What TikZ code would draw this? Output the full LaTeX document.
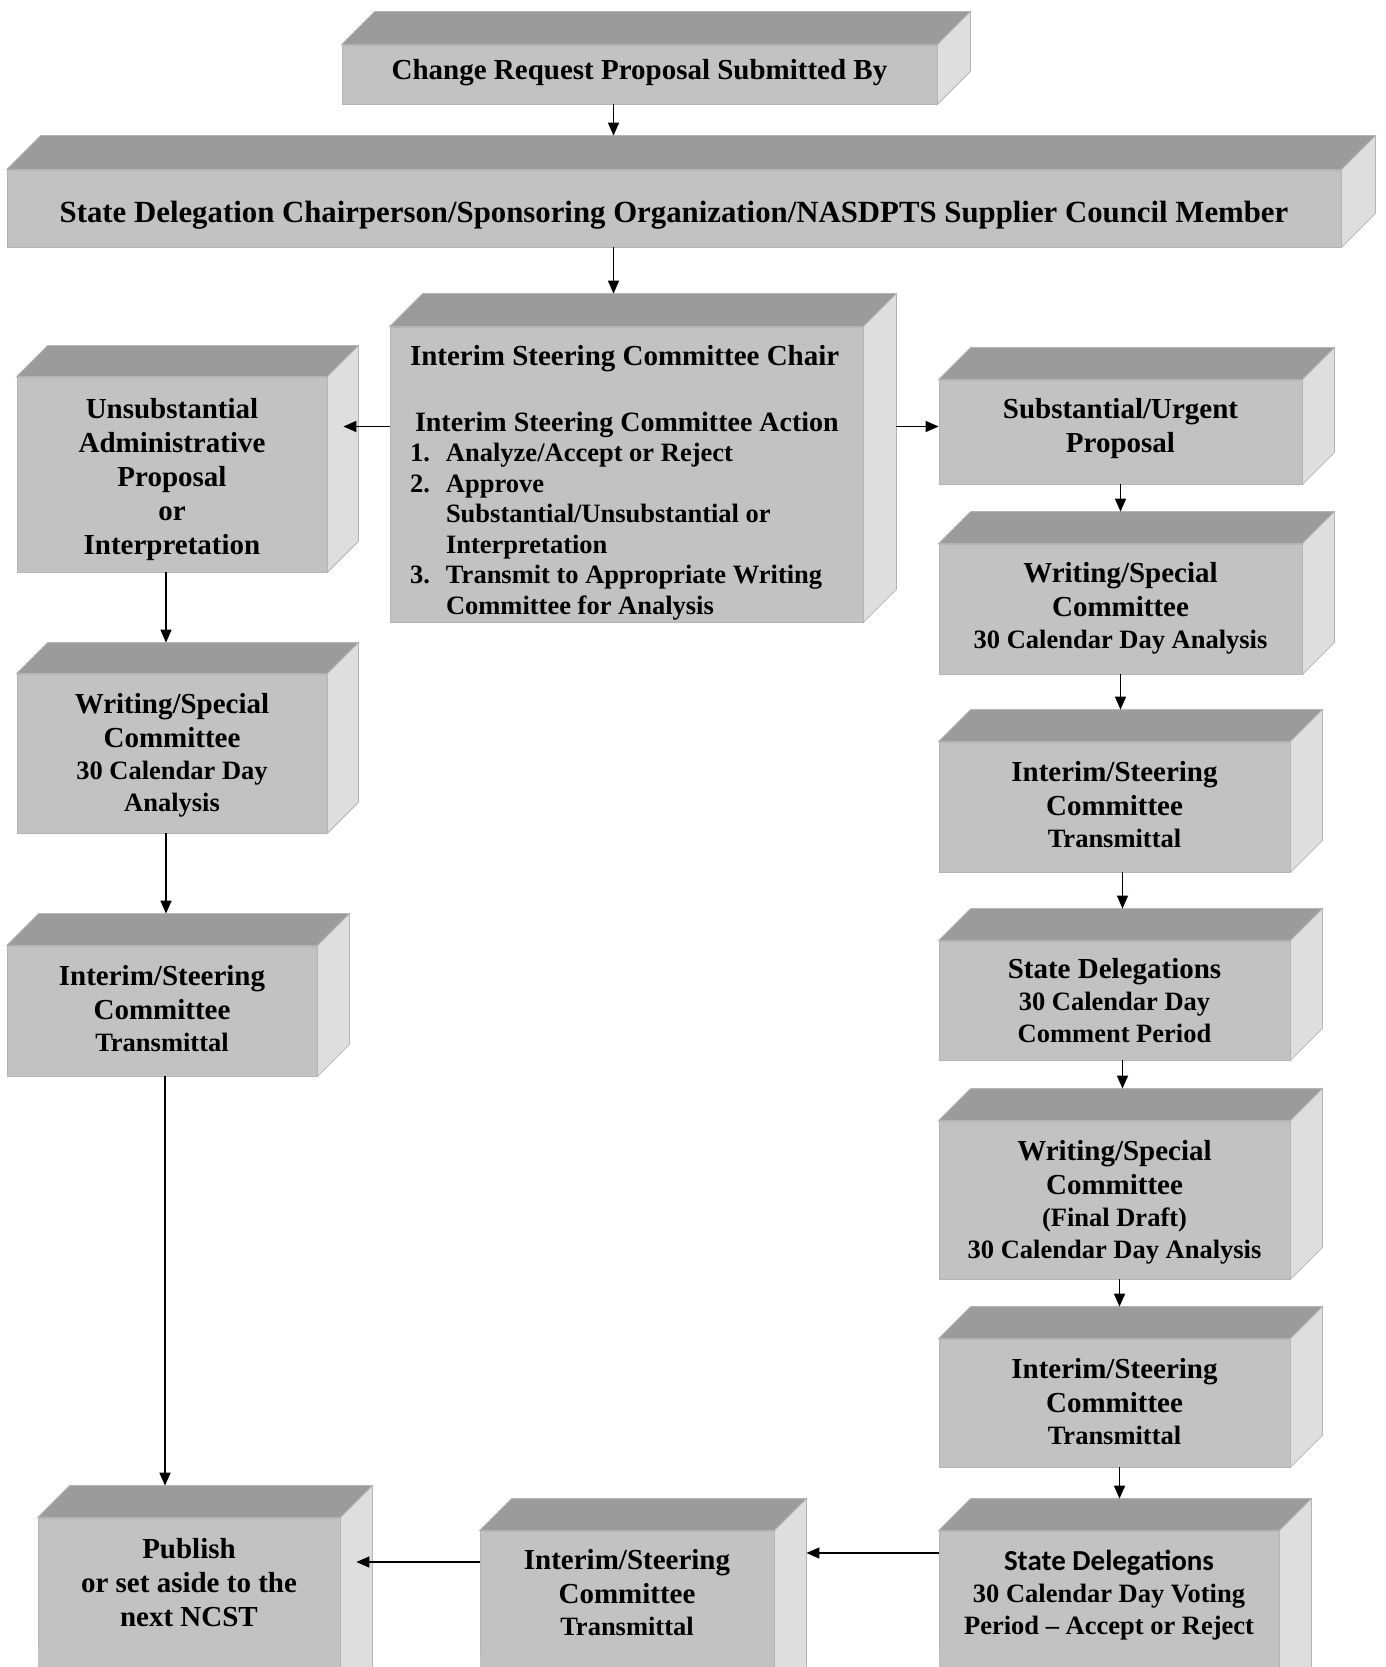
\documentclass[tikz,border=0pt]{standalone}
\usepackage{fontspec}
\setmainfont{Liberation Serif}
\newfontfamily\sansb{Carlito}
\usetikzlibrary{calc,arrows.meta}
\definecolor{frontc}{HTML}{C2C2C2}
\definecolor{topc}{HTML}{9B9B9B}
\definecolor{sidec}{HTML}{DEDEDE}
\definecolor{edgec}{HTML}{B4B4B4}
\newcommand\bigf{\fontsize{29}{34}\selectfont}
\newcommand\smf{\fontsize{26.5}{31}\selectfont}
\tikzset{
  face/.style={fill=frontc, draw=edgec, line width=0.8pt, inner sep=0pt, align=center, font=\bfseries\bigf, text=black},
  topface/.style={fill=topc, draw=edgec, line width=0.8pt},
  sideface/.style={fill=sidec, draw=edgec, line width=0.8pt},
  arr/.style={draw=black, line width=1.5pt, -{Triangle[length=13pt,width=11pt]}},
}
% \boxcube{name}{x1}{y1}{x2}{y2}{depth}{ext}{raise}{text}
\newcommand\boxcube[9]{%
  \node[face, minimum width={#4-#2}, minimum height={#5-#3}] (#1) at ({(#2+#4)/2},{(#3+#5)/2})
    {\raisebox{#8pt}[\height][\depth]{\begin{tabular}{@{}c@{}}#9\end{tabular}}};
  \ifnum#7>0 \fill[frontc] ($(#1.south west)+(0.4,-1.5)$) rectangle ($(#1.south east)+(-0.4,#7)$);\fi
  \filldraw[topface] (#1.north west) -- ++(#6,-#6) -- ($(#1.north east)+(#6,-#6)$) -- (#1.north east) -- cycle;
  \filldraw[sideface] (#1.north east) -- ++(#6,-#6) -- ($(#1.south east)+(#6,#7-#6)$) -- ($(#1.south east)+(0,#7)$) -- cycle;
  \coordinate (#1-back) at ($(#1.north)+(#6,-#6)$);
}
\begin{document}
\begin{tikzpicture}[x=1pt,y=-1pt]
\path[use as bounding box] (0,0) rectangle (1385,1667);
\clip (0,0) rectangle (1385,1667);
\fill[white] (0,0) rectangle (1385,1667);

\boxcube{cr}{342}{45}{937}{104}{33}{0}{2}{Change Request Proposal Submitted By}
\boxcube{sd}{7}{170}{1341}{247}{34}{0}{-7.5}{\fontsize{30.8}{34}\selectfont State Delegation Chairperson/Sponsoring Organization/NASDPTS Supplier Council Member}
\boxcube{isc}{390}{327}{863}{622}{33}{0}{-8.5}{%
  \parbox{433pt}{\raggedright\fontsize{26.5}{30.5}\selectfont
  {\fontsize{29}{30.5}\selectfont Interim Steering Committee Chair}\\[35pt]
  \hspace*{5pt}{\fontsize{28}{30.5}\selectfont Interim Steering Committee Action}\\
  \makebox[36pt][l]{1.}Analyze/Accept or Reject\\
  \makebox[36pt][l]{2.}Approve\\
  \hspace*{36pt}Substantial/Unsubstantial or\\
  \hspace*{36pt}Interpretation\\
  \makebox[36pt][l]{3.}Transmit to Appropriate Writing\\
  \hspace*{36pt}Committee for Analysis}}
\boxcube{ua}{17}{377}{327}{572}{31}{0}{-5.3}{Unsubstantial\\Administrative\\Proposal\\or\\Interpretation}
\boxcube{su}{939}{380}{1302}{484}{32}{0}{3}{Substantial/Urgent\\Proposal}
\boxcube{ws1}{939}{544}{1302}{674}{32}{0}{0}{Writing/Special\\Committee\\[-2pt]{\smf 30 Calendar Day Analysis}}
\boxcube{ist1}{939}{742}{1290}{872}{32}{0}{-1}{Interim/Steering\\Committee\\[-2pt]{\smf Transmittal}}
\boxcube{sdc}{939}{941}{1290}{1060}{32}{0}{-3}{State Delegations\\[-2pt]{\smf 30 Calendar Day}\\[-2pt]{\smf Comment Period}}
\boxcube{ws2}{939}{1121}{1290}{1279}{32}{0}{-2.5}{Writing/Special\\Committee\\[-2pt]{\smf (Final Draft)}\\[-2pt]{\smf 30 Calendar Day Analysis}}
\boxcube{ist2}{939}{1339}{1290}{1467}{32}{0}{-2}{Interim/Steering\\Committee\\[-2pt]{\smf Transmittal}}
\boxcube{sdv}{939}{1531}{1279}{1655}{32}{60}{-3}{{\sansb State Delegations}\\[-2pt]{\smf 30 Calendar Day Voting}\\[-2pt]{\smf Period -- Accept or Reject}}
\boxcube{ist3}{480}{1531}{774}{1655}{32}{60}{-3}{Interim/Steering\\Committee\\[-2pt]{\smf Transmittal}}
\boxcube{pub}{38}{1518}{340}{1648}{32}{60}{-3}{Publish\\or set aside to the\\next NCST}
\boxcube{ws3}{17}{674}{327}{833}{31}{0}{-2.5}{Writing/Special\\Committee\\[-2pt]{\smf 30 Calendar Day}\\[-2pt]{\smf Analysis}}
\boxcube{ist4}{7}{946}{317}{1076}{32}{0}{-1}{Interim/Steering\\Committee\\[-2pt]{\smf Transmittal}}

% connectors
\coordinate (a1) at ($(cr.south)+(-26,0)$);
\draw[arr] (a1) -- (a1 |- sd-back);
\draw[arr] (a1 |- sd.south) -- (a1 |- isc-back);
\coordinate (h1) at ($(isc.west)+(0,-48)$);
\draw[arr] (h1) -- ($(ua.east |- h1)+(16,0)$);
\coordinate (h2) at ($(isc.east)+(33,-48)$);
\draw[arr] (h2) -- (su.west |- h2);
\draw[arr] (su.south) -- (su.south |- ws1-back);
\draw[arr] (ws1.south) -- (ws1.south |- ist1-back);
\coordinate (v1) at ($(ist1.south)+(8,0)$);
\draw[arr] (v1) -- (v1 |- sdc-back);
\coordinate (v2) at ($(sdc.south)+(8,0)$);
\draw[arr] (v2) -- (v2 |- ws2-back);
\coordinate (v3) at ($(ws2.south)+(5,0)$);
\draw[arr] (v3) -- (v3 |- ist2-back);
\coordinate (v4) at ($(ist2.south)+(5,0)$);
\draw[arr] (v4) -- (v4 |- sdv-back);
\coordinate (h3) at ($(sdv.west)+(0,-40)$);
\draw[arr] (h3) -- ($(ist3.east |- h3)+(32,0)$);
\coordinate (h4) at ($(ist3.west)+(0,-31)$);
\draw[arr] (h4) -- ($(pub.east |- h4)+(16,0)$);
\coordinate (v5) at ($(ua.south)+(-6,0)$);
\draw[arr] (v5) -- (v5 |- ws3-back);
\coordinate (v6) at ($(ws3.south)+(-6,0)$);
\draw[arr] (v6) -- (v6 |- ist4-back);
\coordinate (v7) at ($(ist4.south)+(3,0)$);
\draw[arr] (v7) -- (v7 |- pub-back);
\end{tikzpicture}
\end{document}
